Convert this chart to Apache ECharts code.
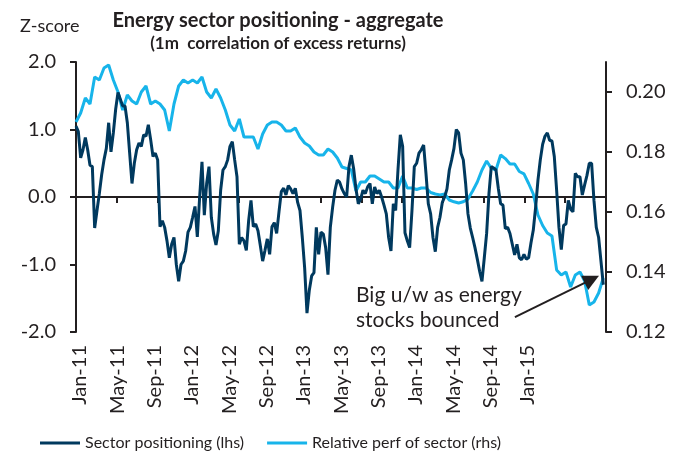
<!DOCTYPE html>
<html>
<head>
<meta charset="utf-8">
<title>Energy sector positioning - aggregate</title>
<script src="https://cdn.jsdelivr.net/npm/echarts@6/dist/echarts.min.js"></script>
<style>
  html, body { margin: 0; padding: 0; background: #fff; }
  #chart { width: 683px; height: 460px; }
</style>
</head>
<body>
<div id="chart"></div>
<script>
// x values are in months from Jan-11
var startMonth = -0.43;
var lhsStep = 0.25;   // positioning read every quarter month
var rhsStep = 0.5;    // relative perf read every half month

var tickLabels = ['Jan-11', 'May-11', 'Sep-11', 'Jan-12', 'May-12', 'Sep-12', 'Jan-13',
                  'May-13', 'Sep-13', 'Jan-14', 'May-14', 'Sep-14', 'Jan-15'];
var lhsTicks = [-2, -1, 0, 1, 2];
var rhsTicks = [0.12, 0.14, 0.16, 0.18, 0.20];

// Sector positioning (lhs, z-score)
var positioning = [
  1.05, 0.97, 0.58, 0.7, 0.88, 0.7, 0.47, 0.45, -0.46, -0.2,
  0.05, 0.33, 0.55, 0.72, 1.1, 0.67, 0.95, 1.3, 1.55, 1.45,
  1.35, 1.35, 1.1, 0.65, 0.2, 0.5, 0.7, 0.8, 0.75, 0.92,
  0.9, 1.07, 0.85, 0.6, 0.65, 0.55, -0.44, -0.35, -0.45, -0.65,
  -0.9, -0.7, -0.6, -1.0, -1.25, -1.0, -0.95, -0.8, -0.52, -0.45,
  -0.3, -0.14, -0.59, 0.0, 0.52, -0.27, 0.2, 0.45, -0.3, -0.55,
  -0.71, -0.5, 0.1, 0.4, 0.45, 0.55, 0.75, 0.82, 0.55, 0.3,
  -0.7, -0.6, -0.65, -0.79, -0.35, -0.05, -0.44, -0.4, -0.5, -0.72,
  -0.95, -0.79, -0.62, -0.85, -0.44, -0.38, -0.54, -0.22, 0.08, 0.13,
  0.03, 0.17, 0.12, 0.05, 0.13, -0.08, -0.2, -0.6, -1.05, -1.72,
  -1.38, -1.17, -1.12, -0.45, -0.85, -0.52, -0.55, -0.75, -1.15, -0.45,
  -0.15, 0.1, 0.25, 0.22, 0.12, 0.05, 0.0, 0.45, 0.62, 0.42,
  0.12, -0.1, -0.03, 0.1, 0.05, 0.15, 0.2, -0.1, 0.15, 0.05,
  0.1, 0.0, -0.12, -0.25, -0.6, -0.8, -0.1, -0.2, 0.4, 0.92,
  0.75, -0.53, -0.65, -0.75, -0.2, 0.45, 0.5, 0.65, 0.7, 0.77,
  0.35, -0.1, -0.25, -0.6, -0.81, -0.45, -0.3, -0.08, 0.0, 0.12,
  0.4, 0.55, 0.72, 1.0, 0.95, 0.65, 0.55, 0.2, -0.25, -0.46,
  -0.6, -0.75, -0.92, -1.1, -1.25, -0.9, -0.54, 0.05, 0.45, 0.43,
  0.4, 0.13, -0.1, -0.12, -0.47, -0.45, -0.54, -0.7, -0.86, -0.7,
  -0.9, -0.93, -0.85, -0.92, -0.9, -0.68, -0.49, -0.15, 0.25, 0.55,
  0.78, 0.9, 0.95, 0.84, 0.83, 0.6, 0.1, -0.45, -0.78, -0.42,
  -0.4, -0.05, -0.18, -0.22, 0.35, 0.3, 0.3, 0.03, 0.18, 0.32,
  0.5, 0.5, -0.05, -0.45, -0.6, -0.95, -1.3
];

// Relative perf of sector (rhs)
var relPerf = [
  0.190, 0.193, 0.198, 0.196, 0.205, 0.204, 0.208, 0.209, 0.204, 0.200,
  0.194, 0.199, 0.197, 0.196, 0.200, 0.202, 0.196, 0.197, 0.196, 0.194,
  0.187, 0.196, 0.202, 0.204, 0.203, 0.204, 0.203, 0.205, 0.200, 0.198,
  0.201, 0.198, 0.194, 0.189, 0.187, 0.191, 0.185, 0.185, 0.185, 0.181,
  0.186, 0.189, 0.190, 0.190, 0.189, 0.187, 0.187, 0.188, 0.185, 0.183,
  0.182, 0.180, 0.179, 0.179, 0.181, 0.180, 0.178, 0.175, 0.1745, 0.174,
  0.167, 0.170, 0.170, 0.172, 0.172, 0.171, 0.170, 0.170, 0.168, 0.168,
  0.172, 0.168, 0.168, 0.1675, 0.168, 0.168, 0.1665, 0.166, 0.1657, 0.166,
  0.164, 0.1634, 0.163, 0.1634, 0.1643, 0.167, 0.170, 0.174, 0.177, 0.1746,
  0.174, 0.179, 0.1778, 0.176, 0.176, 0.1735, 0.1727, 0.1695, 0.166, 0.159,
  0.1555, 0.153, 0.152, 0.1407, 0.139, 0.140, 0.135, 0.139, 0.140, 0.137,
  0.129, 0.130, 0.133, 0.138
];

var FONT = 'Lato';
var INK = '#231f20';
var DARK = '#00395e';
var CYAN = '#17b4ea';

var xMin = -0.43, xMax = 56.36;
var labelMonths = tickLabels.map(function (t, i) { return i * 4; });
// the x ticks split the axis in 13 equal parts, not matching the labels
var tickMonths = [];
for (var k = 1; k < 13; k++) tickMonths.push(xMin + k * (xMax - xMin) / 13);

function toXY(arr, step) {
  return arr.map(function (v, i) { return [startMonth + i * step, v]; });
}

var chart = echarts.init(document.getElementById('chart'));
var axisLine = { show: true, onZero: false, lineStyle: { color: INK, width: 2 } };
var axisTick = { show: true, length: 6, lineStyle: { color: INK, width: 2 } };
var labelStyle = { color: INK, fontFamily: FONT, fontSize: 20 };

var option = {
  animation: false,
  backgroundColor: '#fff',
  title: {
    text: 'Energy sector positioning - aggregate',
    subtext: '(1m  correlation of excess returns)',
    left: 273,
    top: 6,
    textAlign: 'center',
    itemGap: 4,
    textStyle: { color: INK, fontFamily: FONT, fontSize: 20, fontWeight: 'bold' },
    subtextStyle: { color: INK, fontFamily: FONT, fontSize: 17, fontWeight: 'bold' }
  },
  grid: { left: 76, right: 77, top: 62, bottom: 128, containLabel: false, outerBoundsMode: 'none' },
  legend: {
    left: 35,
    top: 430,
    icon: 'rect',
    itemWidth: 40,
    itemHeight: 3,
    itemGap: 23,
    textStyle: { color: INK, fontFamily: FONT, fontSize: 16 },
    data: ['Sector positioning (lhs)', 'Relative perf of sector (rhs)']
  },
  xAxis: [{
    type: 'value',
    min: xMin,
    max: xMax,
    position: 'bottom',
    axisLine: { show: false, onZero: false },
    axisTick: { show: false },
    splitLine: { show: false },
    axisLabel: Object.assign({
      customValues: labelMonths,
      rotate: 90,
      margin: 13,
      formatter: function (v) { return tickLabels[Math.round(v / 4)]; }
    }, labelStyle)
  }, {
    type: 'value',
    min: xMin,
    max: xMax,
    position: 'bottom',
    axisLine: { show: true, onZero: true, onZeroAxisIndex: 0, lineStyle: { color: INK, width: 2 } },
    axisTick: Object.assign({ customValues: tickMonths }, axisTick),
    axisLabel: { show: false },
    splitLine: { show: false }
  }],
  yAxis: [{
    type: 'value',
    min: -2,
    max: 2,
    interval: 1,
    position: 'left',
    axisLine: axisLine,
    axisTick: axisTick,
    splitLine: { show: false },
    axisLabel: Object.assign({
      margin: 20,
      customValues: lhsTicks,
      formatter: function (v) { return v.toFixed(1); }
    }, labelStyle)
  }, {
    type: 'value',
    min: 0.12,
    max: 0.21,
    position: 'right',
    axisLine: axisLine,
    axisTick: Object.assign({ customValues: rhsTicks }, axisTick),
    splitLine: { show: false },
    axisLabel: Object.assign({
      margin: 20,
      customValues: rhsTicks,
      formatter: function (v) { return v.toFixed(2); }
    }, labelStyle)
  }],
  graphic: [{
    type: 'text',
    left: 20,
    top: 17,
    style: { text: 'Z-score', fill: INK, font: '18px Lato' }
  }, {
    type: 'text',
    left: 356,
    top: 283,
    style: {
      text: 'Big u/w as energy\nstocks bounced',
      fill: INK,
      font: '21px Lato',
      lineHeight: 25
    }
  }],
  series: [{
    name: 'Relative perf of sector (rhs)',
    type: 'line',
    xAxisIndex: 0,
    yAxisIndex: 1,
    data: toXY(relPerf, rhsStep),
    showSymbol: false,
    symbol: 'none',
    z: 2,
    lineStyle: { color: CYAN, width: 3 },
    itemStyle: { color: CYAN }
  }, {
    name: 'Sector positioning (lhs)',
    type: 'line',
    xAxisIndex: 0,
    yAxisIndex: 0,
    data: toXY(positioning, lhsStep),
    showSymbol: false,
    symbol: 'none',
    z: 3,
    lineStyle: { color: DARK, width: 3 },
    itemStyle: { color: DARK },
    markLine: {
      silent: true,
      symbol: ['none', 'triangle'],
      symbolSize: 16,
      lineStyle: { color: INK, width: 2, type: 'solid' },
      label: { show: false },
      data: [[{ coord: [46.6, -1.78] }, { coord: [54.84, -1.22] }]]
    }
  }]
};
chart.setOption(option);
window.addEventListener('resize', function () { chart.resize(); });
</script>
</body>
</html>
